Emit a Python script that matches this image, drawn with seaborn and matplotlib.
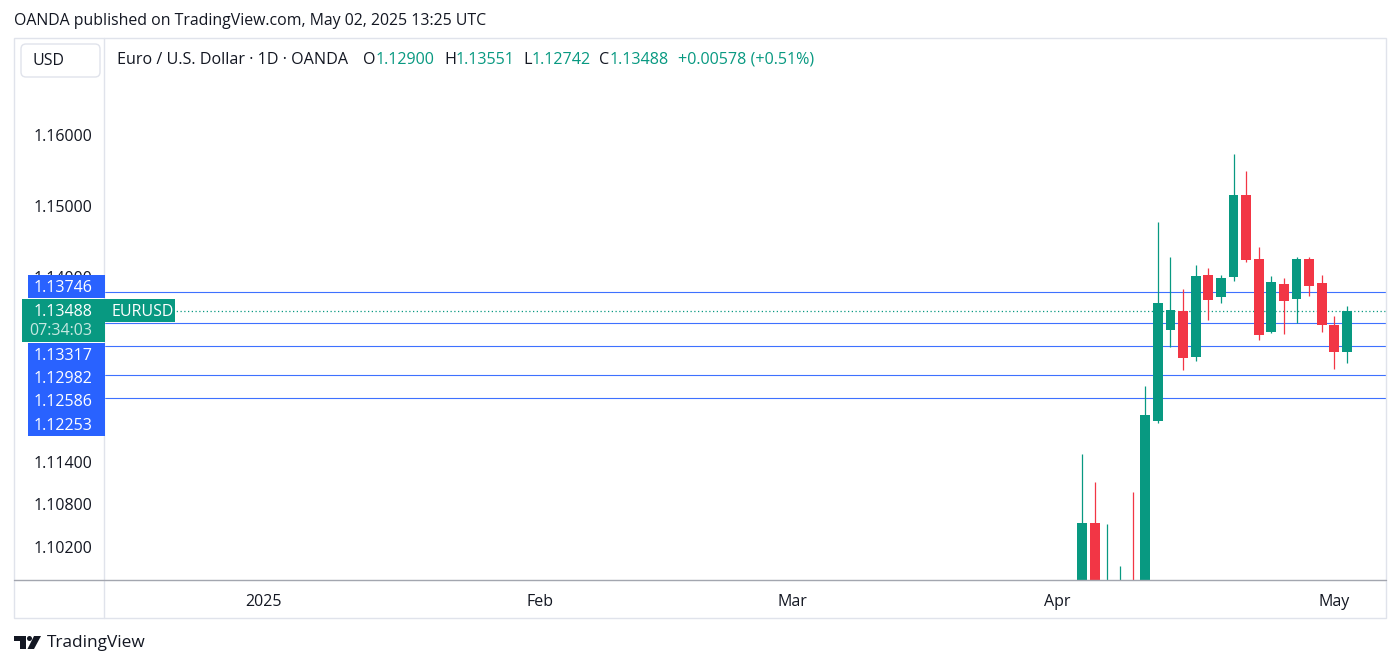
import pandas as pd
import seaborn as sns
import matplotlib.pyplot as plt
from matplotlib.patches import Rectangle, FancyBboxPatch, Polygon, Circle
from matplotlib.lines import Line2D
from matplotlib.transforms import ScaledTranslation

# daily EURUSD candles (OANDA), only the part that shows inside the price window
dates = ["2025-04-03", "2025-04-04", "2025-04-07", "2025-04-08", "2025-04-09",
         "2025-04-10", "2025-04-11", "2025-04-14", "2025-04-15", "2025-04-16",
         "2025-04-17", "2025-04-18", "2025-04-21", "2025-04-22", "2025-04-23",
         "2025-04-24", "2025-04-25", "2025-04-28", "2025-04-29", "2025-04-30",
         "2025-05-01", "2025-05-02"]
opens = [1.0851, 1.1050, 1.0930, 1.0910, 1.0960, 1.0955, 1.1193, 1.1321, 1.1348, 1.1283,
         1.1399, 1.1368, 1.1396, 1.1511, 1.1422, 1.1318, 1.1386, 1.1365, 1.1421, 1.1388,
         1.1329, 1.12900]
highs = [1.1146, 1.1107, 1.1048, 1.0989, 1.1093, 1.1242, 1.1473, 1.1424, 1.1379, 1.1413,
         1.1409, 1.1399, 1.1570, 1.1545, 1.1439, 1.1398, 1.1394, 1.1425, 1.1424, 1.1399,
         1.1341, 1.13551]
lows = [1.0830, 1.0930, 1.0880, 1.0890, 1.0880, 1.0940, 1.1190, 1.1298, 1.1265, 1.1278,
        1.1336, 1.1360, 1.1390, 1.1417, 1.1308, 1.1317, 1.1316, 1.1331, 1.1370, 1.1319,
        1.1266, 1.12742]
closes = [1.1049, 1.0960, 1.0955, 1.0960, 1.0950, 1.1202, 1.1360, 1.1349, 1.1282, 1.1398,
          1.1363, 1.1394, 1.1511, 1.1420, 1.1315, 1.1389, 1.1362, 1.1421, 1.1384, 1.1329,
          1.1291, 1.13488]

levels = [1.13746, 1.13317, 1.12982, 1.12586, 1.12253]
last_price = 1.13488
countdown = "07:34:03"
y_ticks = [1.16, 1.15, 1.14, 1.114, 1.108, 1.102]
month_labels = ["2025", "Feb", "Mar", "Apr", "May"]
ohlc_labels = ["O", "H", "L", "C"]
last_ohlc = [1.12900, 1.13551, 1.12742, 1.13488]
change_text = "+0.00578 (+0.51%)"

UP = "#089981"
DOWN = "#f23645"
BLUE = "#2962ff"
TXT = "#131722"
BORDER = "#e0e3eb"
FS = 11.5
LEG_FS = 11.6

sns.set_theme(style="white")
plt.rcParams["font.family"] = ["Open Sans", "DejaVu Sans"]

W, H = 1400, 667
fig = plt.figure(figsize=(W / 100, H / 100), dpi=100)
fig.patch.set_facecolor("white")
T = fig.dpi_scale_trans


def ix(px):
    return px / 100


def iy(py):
    return (H - py) / 100


# one bar per weekday, like the TradingView daily time scale
cal = pd.bdate_range("2025-01-02", "2025-05-02")
pos = {d: i for i, d in enumerate(cal)}
df = pd.DataFrame({"date": pd.to_datetime(dates), "open": opens, "high": highs,
                   "low": lows, "close": closes})
df["x"] = df["date"].map(pos)
df["color"] = [UP if c >= o else DOWN for o, c in zip(df.open, df.close)]

ax = fig.add_axes([105 / W, (H - 580) / H, (1386 - 105) / W, (580 - 38) / H])
ax.set_facecolor("white")
ax.set_xlim(-12.54, 89.1)
ax.set_ylim(1.0969, 1.1733)

ax.vlines(df.x, df.low, df.high, colors=df.color, lw=0.9, zorder=3)
ax.bar(df.x, (df.close - df.open).abs(), bottom=df[["open", "close"]].min(axis=1),
       width=0.79, color=df.color, lw=0, zorder=4)

for lv in levels:
    ax.axhline(lv, color=BLUE, lw=0.8, alpha=0.9, zorder=2)
ax.axhline(last_price, color=UP, lw=0.9, ls=(0, (1, 2)), zorder=2)

ax.set_yticks(y_ticks)
ax.set_yticklabels([f"{v:.5f}" for v in y_ticks])
firsts = cal.to_series().groupby(cal.month).first()
ax.set_xticks([pos[d] for d in firsts])
ax.set_xticklabels(month_labels)
ax.tick_params(axis="y", length=0, pad=9.2, labelsize=FS, labelcolor=TXT)
ax.tick_params(axis="x", length=0, pad=10, labelsize=FS, labelcolor=TXT)
shift = ScaledTranslation(0, -0.03, fig.dpi_scale_trans)
for lab in ax.get_yticklabels():
    lab.set_va("center_baseline")
    lab.set_transform(lab.get_transform() + shift)
sns.despine(ax=ax, left=True, bottom=True)
ax.grid(False)

# pane frame and separators
fig.add_artist(Rectangle((ix(14), iy(618)), ix(1386) - ix(14), (618 - 38) / 100,
                         fill=False, ec=BORDER, lw=1, transform=T))
fig.add_artist(Line2D([ix(104)] * 2, [iy(38), iy(618)], color=BORDER, lw=1, transform=T))
fig.add_artist(Line2D([ix(14), ix(1386)], [iy(580)] * 2, color="#a3a6af", lw=1, transform=T))

# header
fig.text(ix(14), iy(21), "OANDA published on TradingView.com, May 02, 2025 13:25 UTC",
         transform=T, va="center", fontsize=11.4, color=TXT)
fig.add_artist(FancyBboxPatch((ix(21), iy(77)), ix(79), 0.33,
                              boxstyle="round,pad=0,rounding_size=0.05",
                              fc="white", ec=BORDER, lw=1, transform=T))
fig.text(ix(33), iy(61), "USD", transform=T, va="center", fontsize=FS, color=TXT)

renderer = fig.canvas.get_renderer()
fig.text(ix(117), iy(60), "Euro / U.S. Dollar \u00b7 1D \u00b7 OANDA", transform=T,
         va="center", fontsize=LEG_FS, color=TXT)
for lab, val, x0 in zip(ohlc_labels, last_ohlc, [363, 444, 523, 599]):
    t = fig.text(ix(x0), iy(60), lab, transform=T, va="center", fontsize=LEG_FS, color=TXT)
    x1 = t.get_window_extent(renderer).x1
    fig.text(x1 / 100, iy(60), f"{val:.5f}", transform=T, va="center",
             fontsize=LEG_FS, color=UP)
fig.text(ix(678), iy(60), change_text, transform=T, va="center", fontsize=LEG_FS, color=UP)

# price scale labels of the horizontal levels
label_rows = [(275, 298), (343, 366.3), (366.3, 389.6), (389.6, 412.9), (412.9, 436.2)]
for lv, (top, bot) in zip(levels, label_rows):
    fig.add_artist(Rectangle((ix(28), iy(bot)), ix(77), (bot - top) / 100,
                             fc=BLUE, ec="none", transform=T, zorder=5))
    fig.text(ix(92), iy((top + bot) / 2 + 1), f"{lv:.5f}", transform=T, ha="right",
             va="center", fontsize=FS, color="white", zorder=6)

fig.add_artist(Rectangle((ix(22), iy(342)), ix(83), 0.43, fc=UP, ec="none",
                         transform=T, zorder=5))
fig.text(ix(92), iy(312), f"{last_price:.5f}", transform=T, ha="right", va="center",
         fontsize=FS, color="white", zorder=6)
fig.text(ix(92), iy(331), countdown, transform=T, ha="right", va="center",
         fontsize=FS, color="#c6e8e1", zorder=6)
fig.add_artist(Rectangle((ix(105), iy(322)), ix(70), 0.23, fc=UP, ec="none",
                         transform=T, zorder=5))
fig.text(ix(111), iy(312), "EURUSD", transform=T, va="center", fontsize=FS,
         color="white", zorder=6)

# TradingView logo
fig.add_artist(Polygon([(ix(14), iy(636)), (ix(26), iy(636)), (ix(26), iy(649)),
                        (ix(20), iy(649)), (ix(20), iy(641)), (ix(14), iy(641))],
                       closed=True, fc=TXT, ec="none", transform=T))
fig.add_artist(Circle((ix(29.5), iy(638.5)), 0.025, fc=TXT, ec="none", transform=T))
fig.add_artist(Polygon([(ix(34), iy(636)), (ix(41), iy(636)), (ix(34), iy(649)),
                        (ix(27.5), iy(649))], closed=True, fc=TXT, ec="none", transform=T))
fig.text(ix(47), iy(643), "TradingView", transform=T, va="center", fontsize=12.4, color=TXT)

fig.savefig("out.png", dpi=100, facecolor="white")
